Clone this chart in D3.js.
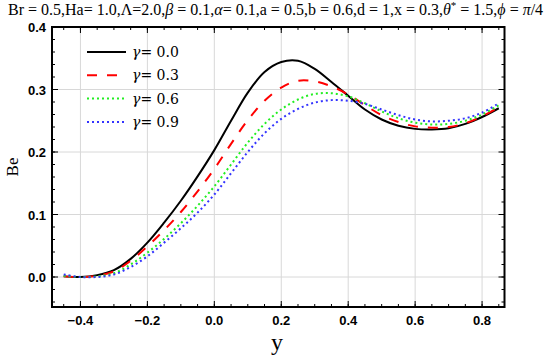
<!DOCTYPE html>
<html>
<head>
<meta charset="utf-8">
<script src="https://cdn.jsdelivr.net/npm/d3@7"></script>
<style>
  body { margin: 0; background: #fff; }
  .tick-label { font-family: "Liberation Sans", Arial, sans-serif; font-weight: bold; font-size: 13px; }
</style>
</head>
<body>
<svg id="chart"></svg>
<script>
const xs = [-0.45, -0.4, -0.35, -0.3, -0.25, -0.2, -0.15, -0.1, -0.05, 0, 0.05, 0.1, 0.15, 0.2, 0.25, 0.3, 0.35, 0.4, 0.45, 0.5, 0.55, 0.6, 0.65, 0.7, 0.75, 0.8, 0.85]
const be00 = [0.001, 0.000, 0.003, 0.011, 0.029, 0.055, 0.087, 0.122, 0.161, 0.203, 0.250, 0.295, 0.328, 0.344, 0.346, 0.333, 0.312, 0.290, 0.268, 0.252, 0.242, 0.237, 0.236, 0.238, 0.245, 0.256, 0.270]
const be03 = [0.001, 0.000, 0.002, 0.009, 0.026, 0.049, 0.075, 0.104, 0.137, 0.173, 0.213, 0.251, 0.282, 0.303, 0.314, 0.313, 0.305, 0.292, 0.275, 0.259, 0.248, 0.241, 0.239, 0.240, 0.246, 0.257, 0.272]
const be06 = [0.002, 0.000, 0.001, 0.006, 0.020, 0.039, 0.061, 0.086, 0.114, 0.145, 0.180, 0.215, 0.245, 0.268, 0.284, 0.293, 0.294, 0.289, 0.278, 0.265, 0.254, 0.247, 0.244, 0.245, 0.250, 0.260, 0.275]
const be09 = [0.004, 0.000, 0.000, 0.004, 0.016, 0.033, 0.055, 0.078, 0.103, 0.132, 0.166, 0.200, 0.230, 0.253, 0.269, 0.279, 0.283, 0.282, 0.277, 0.268, 0.259, 0.252, 0.249, 0.250, 0.254, 0.263, 0.278]
const gammas = ["0.0", "0.3", "0.6", "0.9"]
const xTicks = [-0.4, -0.2, 0.0, 0.2, 0.4, 0.6, 0.8]
const yTicks = [0.0, 0.1, 0.2, 0.3, 0.4]

const width = 550, height = 360
const svg = d3.select("#chart").attr("width", width).attr("height", height)

const x = d3.scaleLinear().domain([-0.485, 0.867]).range([52, 504.5])
const y = d3.scaleLinear().domain([-0.048, 0.4]).range([307, 27])

const series = [
  { name: gammas[0], vals: be00, color: "#000", dash: null, w: 2 },
  { name: gammas[1], vals: be03, color: "#ff0000", dash: "10,10", w: 2 },
  { name: gammas[2], vals: be06, color: "#22ee22", dash: "2,3", w: 2 },
  { name: gammas[3], vals: be09, color: "#3333ff", dash: "2,3", w: 2 }
]

// grid
const grid = svg.append("g").attr("stroke", "#d8d8d8").attr("stroke-width", 1)
grid.selectAll("line.gx").data(xTicks).enter().append("line")
  .attr("x1", d => x(d)).attr("x2", d => x(d)).attr("y1", y.range()[1]).attr("y2", y.range()[0])
grid.selectAll("line.gy").data(yTicks).enter().append("line")
  .attr("y1", d => y(d)).attr("y2", d => y(d)).attr("x1", x.range()[0]).attr("x2", x.range()[1])

// curves
const line = d3.line().x((d, i) => x(xs[i])).y(d => y(d)).curve(d3.curveCatmullRom)
svg.append("g").selectAll("path").data(series).enter().append("path")
  .attr("d", d => line(d.vals))
  .attr("fill", "none")
  .attr("stroke", d => d.color)
  .attr("stroke-width", d => d.w)
  .attr("stroke-dasharray", d => d.dash)

// frame with ticks on all sides (inward)
const xMinor = d3.range(-0.45, 0.86, 0.05)
const yMinor = d3.range(-0.04, 0.401, 0.02)
const frame = svg.append("g").attr("stroke", "#000")
function ticks(vals, len, side) {
  frame.selectAll(null).data(vals).enter().append("line")
    .attr("stroke-width", 1)
    .attr("x1", d => side === "b" || side === "t" ? x(d) : (side === "l" ? x.range()[0] : x.range()[1]))
    .attr("x2", d => side === "b" || side === "t" ? x(d) : (side === "l" ? x.range()[0] + len : x.range()[1] - len))
    .attr("y1", d => side === "l" || side === "r" ? y(d) : (side === "b" ? y.range()[0] : y.range()[1]))
    .attr("y2", d => side === "l" || side === "r" ? y(d) : (side === "b" ? y.range()[0] - len : y.range()[1] + len))
}
ticks(xTicks, 6, "b"); ticks(xTicks, 6, "t")
ticks(xMinor, 3, "b"); ticks(xMinor, 3, "t")
ticks(yTicks, 6, "l"); ticks(yTicks, 6, "r")
ticks(yMinor, 3, "l"); ticks(yMinor, 3, "r")
svg.append("rect")
  .attr("x", x.range()[0]).attr("y", y.range()[1])
  .attr("width", x.range()[1] - x.range()[0]).attr("height", y.range()[0] - y.range()[1])
  .attr("fill", "none").attr("stroke", "#000").attr("stroke-width", 2)

// tick labels
svg.append("g").selectAll("text").data(xTicks).enter().append("text")
  .attr("class", "tick-label")
  .attr("x", d => x(d)).attr("y", 325).attr("text-anchor", "middle")
  .text(d => d3.format(".1f")(d).replace("-", "\u2212"))
svg.append("g").selectAll("text").data(yTicks).enter().append("text")
  .attr("class", "tick-label")
  .attr("x", 46).attr("y", d => y(d) + 5).attr("text-anchor", "end")
  .text(d => d3.format(".1f")(d))

// axis titles
svg.append("text").attr("transform", "translate(18,167) rotate(-90)")
  .attr("text-anchor", "middle").attr("font-family", "Liberation Serif, serif").attr("font-size", 17)
  .text("Be")
svg.append("text").attr("x", 277).attr("y", 350)
  .attr("text-anchor", "middle").attr("font-family", "Liberation Serif, serif").attr("font-size", 24)
  .text("y")

// title: one text node, theta* superscript kept in-line
const title = svg.append("text").attr("x", 8).attr("y", 15)
  .attr("font-family", "Liberation Serif, serif").attr("font-size", 16)
const parts = [
  ["Br = 0.5,Ha= 1.0,\u039B=2.0,", false], ["\u03B2", true], [" = 0.1,", false],
  ["\u03B1", true], ["= 0.1,a = 0.5,b = 0.6,d = 1,x = 0.3,", false],
  ["\u03B8", true], ["*", false], [" = 1.5,", false], ["\u03D5", true], [" = ", false], ["\u03C0", true], ["/4", false]
]
parts.forEach(p => {
  const t = title.append("tspan").text(p[0])
  if (p[1]) t.attr("font-style", "italic")
  if (p[0] === "*") t.attr("baseline-shift", "super").attr("font-size", 11)
})

// legend
const lg = svg.append("g")
series.forEach((s, i) => {
  const ly = 52 + i * 23.3
  lg.append("line").attr("x1", 87).attr("x2", 126).attr("y1", ly).attr("y2", ly)
    .attr("stroke", s.color).attr("stroke-width", s.w).attr("stroke-dasharray", s.dash)
  const t = lg.append("text").attr("x", 132).attr("y", ly + 5)
    .attr("font-family", "DejaVu Serif, serif").attr("font-size", 14)
  t.append("tspan").attr("font-style", "italic").text("\u03B3")
  t.append("tspan").text("= " + s.name)
})
</script>
</body>
</html>
